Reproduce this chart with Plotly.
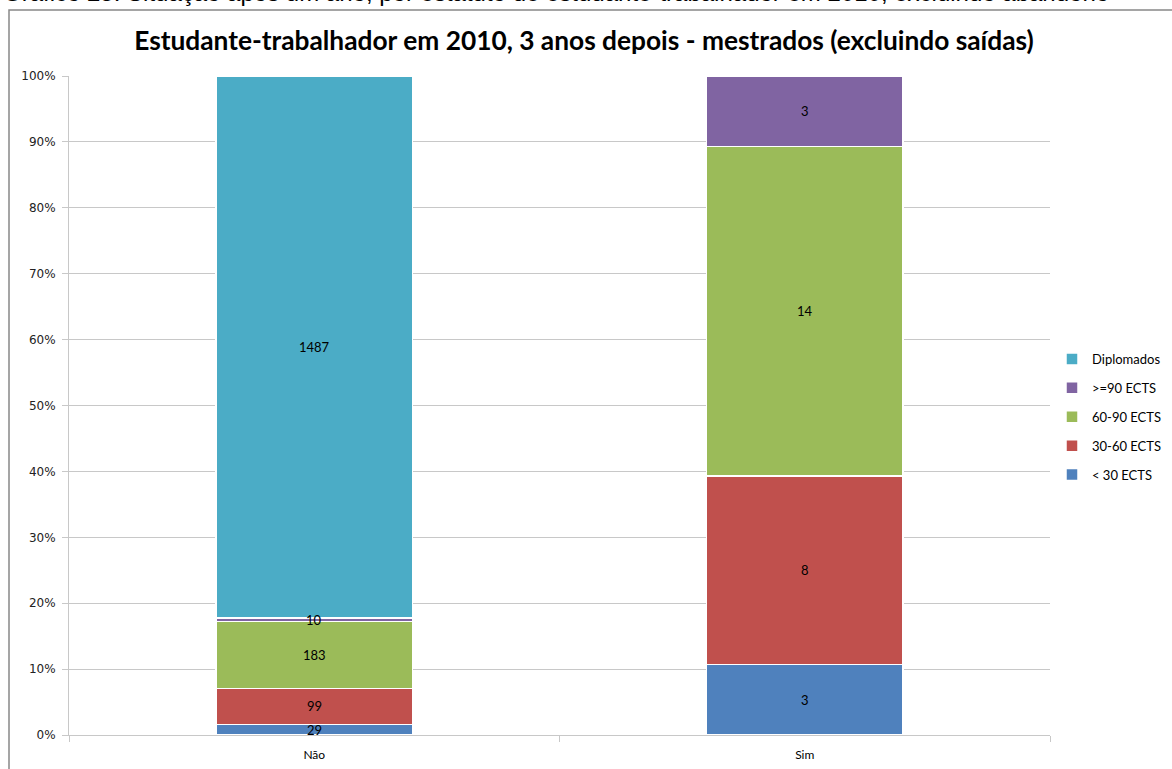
import plotly.graph_objects as go

categories = ["Não", "Sim"]
series_names = ["< 30 ECTS", "30-60 ECTS", "60-90 ECTS", ">=90 ECTS", "Diplomados"]
lt30 = [29, 3]
e30_60 = [99, 8]
e60_90 = [183, 14]
ge90 = [10, 3]
diplomados = [1487, 0]
series_values = [lt30, e30_60, e60_90, ge90, diplomados]
colors = ["#4F81BD", "#C0504D", "#9BBB59", "#8064A2", "#4BACC6"]
tick_values = list(range(0, 101, 10))
tick_labels = [f"{v}%" for v in tick_values]

title_text = "Estudante-trabalhador em 2010, 3 anos depois - mestrados (excluindo saídas)"
caption_text = "Gráfico 25: Situação após um ano, por estatuto de estudante-trabalhador em 2010, excluindo abandono"

W, H = 1172, 769
L, R, T, B = 69, 122, 76, 34
pw, ph = W - L - R, H - T - B

fig = go.Figure()
n = len(series_names)
for k, (name, vals, col) in enumerate(zip(series_names, series_values, colors)):
    fig.add_trace(go.Bar(
        x=categories, y=vals, name=name, legendgroup=name, legendrank=n - k,
        marker=dict(color=col, line=dict(color="white", width=1.5)),
        width=0.4, hoverinfo="x+y+name",
    ))

# labels at segment centres (percent)
totals = [sum(v[i] for v in series_values) for i in range(len(categories))]
annotations = []
for i, cat in enumerate(categories):
    cum = 0
    for vals in series_values:
        v = vals[i]
        if v > 0:
            mid = (cum + v / 2) / totals[i] * 100
            annotations.append(dict(x=cat, y=mid, xref="x", yref="y", text=str(v),
                                    showarrow=False,
                                    font=dict(family="Lato, sans-serif", size=13, color="#000000")))
        cum += v

def px_x(p):
    return (p - L) / pw

def px_y(p):
    return (H - B - p) / ph

annotations.append(dict(x=px_x(1), y=px_y(-7), xref="paper", yref="paper", text=caption_text,
                        showarrow=False, xanchor="left", yanchor="middle",
                        font=dict(family="Arial, Liberation Sans, sans-serif", size=24, color="#000000")))

fig.update_layout(
    width=W, height=H,
    barmode="stack", barnorm="percent",
    margin=dict(l=L, r=R, t=T, b=B, autoexpand=False),
    paper_bgcolor="white", plot_bgcolor="white",
    title=dict(text="<b>" + title_text + "</b>", x=584 / W, xanchor="center", xref="container",
               y=1 - 41 / H, yanchor="middle", yref="container",
               font=dict(family="Lato, sans-serif", size=26.3, color="#000000")),
    legend=dict(x=px_x(1052), y=px_y(417), xanchor="left", yanchor="middle",
                traceorder="grouped", font=dict(family="Lato, sans-serif", size=13, color="#000000"),
                itemwidth=30, tracegroupgap=9, bgcolor="rgba(0,0,0,0)"),
    annotations=annotations,
    shapes=[dict(type="rect", xref="paper", yref="paper",
                 x0=px_x(9), x1=px_x(1190), y0=px_y(790), y1=px_y(10),
                 line=dict(color="#888888", width=1.5), fillcolor="rgba(0,0,0,0)", layer="below")],
    bargap=0.6,
)
fig.update_yaxes(range=[0, 100], tickmode="array", tickvals=tick_values, ticktext=tick_labels,
                 showgrid=True, gridcolor="#C8C8C8", gridwidth=1,
                 showline=True, linecolor="#C8C8C8", linewidth=1,
                 ticks="outside", ticklen=6, tickcolor="#C8C8C8", ticklabelstandoff=4,
                 tickfont=dict(family="DejaVu Sans, Verdana, sans-serif", size=12, color="#222222"),
                 zeroline=False, fixedrange=True)
fig.update_xaxes(showline=True, linecolor="#C8C8C8", linewidth=1,
                 ticks="outside", ticklen=6, tickcolor="#C8C8C8", tickson="boundaries",
                 ticklabelstandoff=9,
                 tickfont=dict(family="Lato, sans-serif", size=12, color="#000000"),
                 showgrid=False, fixedrange=True)

fig.write_html("out.html", config={"displayModeBar": False},
               post_script="document.body.style.margin='0';")
